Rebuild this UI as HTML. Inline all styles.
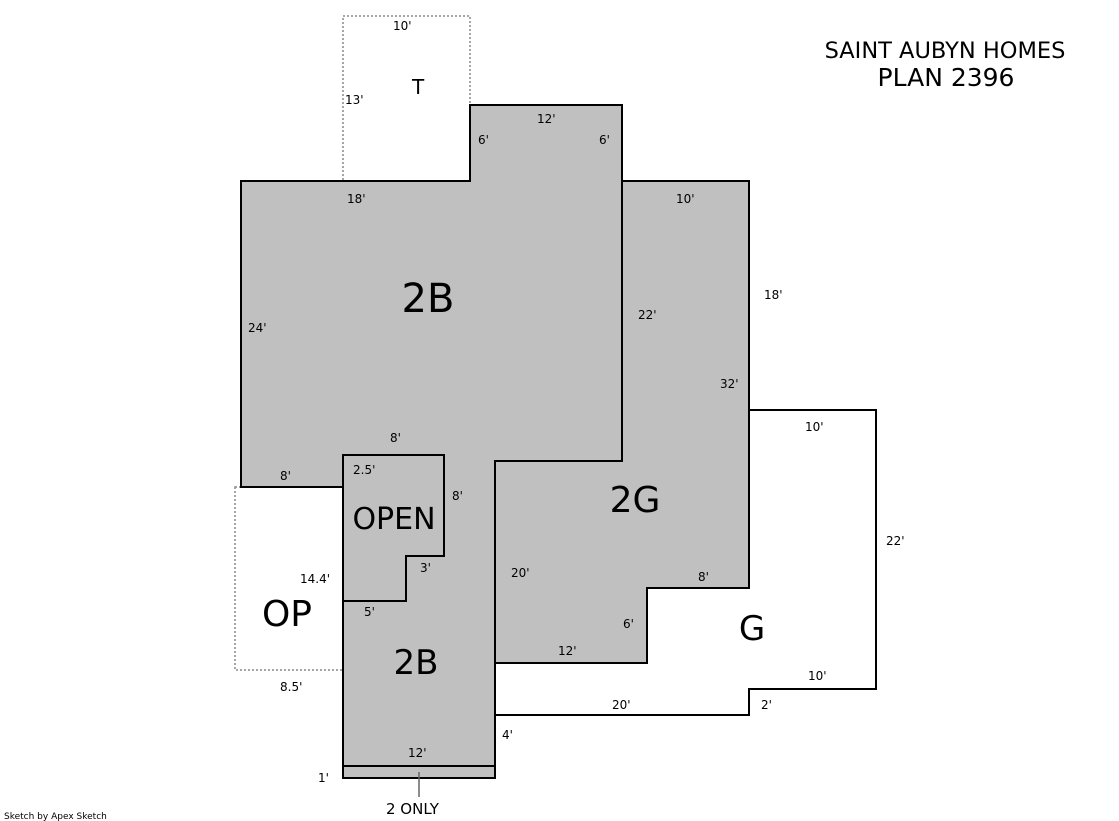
<!DOCTYPE html>
<html><head><style>body{margin:0;background:#fff}svg{display:block}text{font-family:"DejaVu Sans","Liberation Sans",sans-serif;fill:#000}</style></head><body>
<svg width="1119" height="821" viewBox="0 0 1119 821">
<rect x="343" y="16" width="127" height="165" fill="#fff" stroke="#888" stroke-width="1.5" stroke-dasharray="2,2"/>
<rect x="235" y="487" width="108" height="183" fill="#fff" stroke="#888" stroke-width="1.5" stroke-dasharray="2,2"/>
<polygon points="749,410 876,410 876,689 749,689 749,715 495,715 495,663 647,663 647,588 749,588" fill="#fff" stroke="#000" stroke-width="2"/>
<polygon points="241,181 470,181 470,105 622,105 622,461 495,461 495,778 343,778 343,487 241,487" fill="#c0c0c0" stroke="#000" stroke-width="2"/>
<polygon points="622,181 749,181 749,588 647,588 647,663 495,663 495,461 622,461" fill="#c0c0c0" stroke="#000" stroke-width="2"/>
<polygon points="343,455 444,455 444,556 406,556 406,601 343,601" fill="#c0c0c0" stroke="#000" stroke-width="2"/>
<line x1="343" y1="766" x2="495" y2="766" stroke="#000" stroke-width="2"/>
<line x1="419" y1="772" x2="419" y2="797" stroke="#666" stroke-width="1.5"/>
<g font-size="12">
<text x="393" y="30">10'</text><text x="345" y="104">13'</text>
<text x="537" y="123">12'</text><text x="478" y="144">6'</text><text x="599" y="144">6'</text>
<text x="347" y="203">18'</text><text x="676" y="203">10'</text><text x="764" y="299">18'</text>
<text x="248" y="332">24'</text><text x="638" y="319">22'</text><text x="720" y="388">32'</text>
<text x="805" y="431">10'</text><text x="390" y="442">8'</text><text x="280" y="480">8'</text>
<text x="353" y="474">2.5'</text><text x="452" y="500">8'</text><text x="886" y="545">22'</text>
<text x="420" y="572">3'</text><text x="300" y="583">14.4'</text><text x="511" y="577">20'</text>
<text x="698" y="581">8'</text><text x="364" y="616">5'</text><text x="623" y="628">6'</text>
<text x="558" y="655">12'</text><text x="808" y="680">10'</text><text x="280" y="691">8.5'</text>
<text x="612" y="709">20'</text><text x="761" y="709">2'</text><text x="502" y="739">4'</text>
<text x="408" y="757">12'</text><text x="318" y="782">1'</text>
</g>
<text x="386" y="814" font-size="15">2 ONLY</text>
<text x="4" y="819" font-size="9">Sketch by Apex Sketch</text>
<text x="945" y="58" font-size="22.5" text-anchor="middle">SAINT AUBYN HOMES</text>
<text x="946" y="86" font-size="25" text-anchor="middle">PLAN 2396</text>
<text x="412" y="94" font-size="20">T</text>
<text x="428" y="312" font-size="40" text-anchor="middle">2B</text>
<text x="394" y="529" font-size="30" text-anchor="middle">OPEN</text>
<text x="635" y="512" font-size="36" text-anchor="middle">2G</text>
<text x="287" y="626" font-size="36" text-anchor="middle">OP</text>
<text x="416" y="674" font-size="34" text-anchor="middle">2B</text>
<text x="752" y="640" font-size="34" text-anchor="middle">G</text>
</svg>
</body></html>
